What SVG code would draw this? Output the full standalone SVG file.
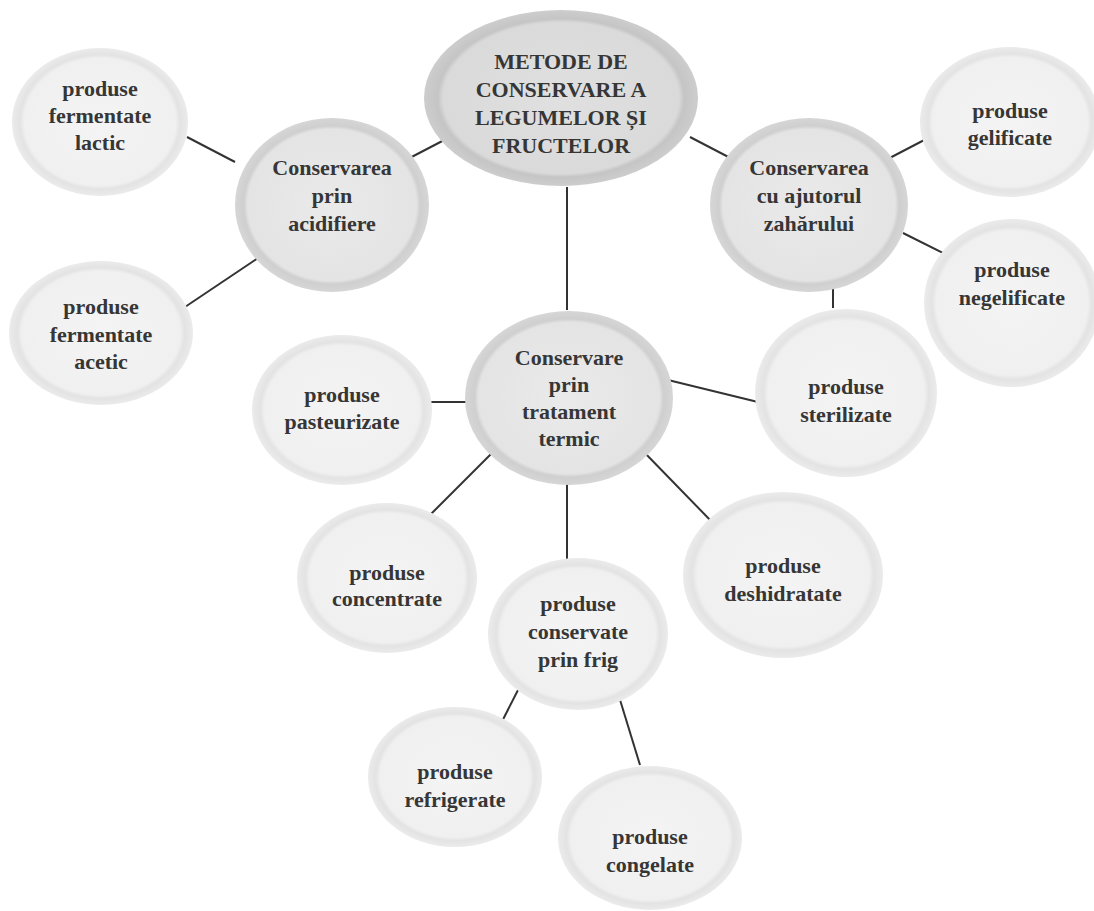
<svg xmlns="http://www.w3.org/2000/svg" width="1094" height="911" viewBox="0 0 1094 911">
<defs>
<radialGradient id="gMain" cx="0.5" cy="0.5" r="0.5">
<stop offset="0" stop-color="#e0e0e0"/>
<stop offset="0.86" stop-color="#dadada"/>
<stop offset="0.9" stop-color="#c5c5c5"/>
<stop offset="1" stop-color="#cdcdcd"/>
</radialGradient>
<radialGradient id="gSec" cx="0.5" cy="0.5" r="0.5">
<stop offset="0" stop-color="#eaeaea"/>
<stop offset="0.87" stop-color="#e4e4e4"/>
<stop offset="0.91" stop-color="#cfcfcf"/>
<stop offset="1" stop-color="#d6d6d6"/>
</radialGradient>
<radialGradient id="gLeaf" cx="0.5" cy="0.5" r="0.5">
<stop offset="0" stop-color="#f4f4f4"/>
<stop offset="0.86" stop-color="#f0f0f0"/>
<stop offset="0.91" stop-color="#e3e3e3"/>
<stop offset="1" stop-color="#ebebeb"/>
</radialGradient>
</defs>
<style>
.main{fill:url(#gMain)}
.sec{fill:url(#gSec)}
.leaf{fill:url(#gLeaf)}
text{font-family:"Liberation Serif","Times New Roman",serif;font-weight:bold;font-size:22px;fill:#363636;text-anchor:middle;dominant-baseline:central}
.conn line{stroke:#333;stroke-width:2}
</style>
<rect width="1094" height="911" fill="#ffffff"/>
<g class="conn">
<line x1="402" y1="162" x2="450" y2="137"/>
<line x1="690" y1="137" x2="738" y2="162"/>
<line x1="567" y1="187" x2="567" y2="310"/>
<line x1="235" y1="162" x2="187" y2="137"/>
<line x1="258" y1="258" x2="185" y2="307"/>
<line x1="882" y1="162" x2="930" y2="137"/>
<line x1="903" y1="233" x2="953" y2="258"/>
<line x1="833" y1="283" x2="833" y2="308"/>
<line x1="423" y1="402" x2="472" y2="402"/>
<line x1="668" y1="380" x2="762" y2="403"/>
<line x1="495" y1="450" x2="422" y2="523"/>
<line x1="642" y1="450" x2="713" y2="523"/>
<line x1="567" y1="473" x2="567" y2="570"/>
<line x1="518" y1="690" x2="490" y2="745"/>
<line x1="617" y1="690" x2="640" y2="765"/>
</g>
<g id="main"><ellipse class="main" cx="561" cy="98" rx="137" ry="88"/>
<text x="561" y="61">METODE DE</text><text x="561" y="89">CONSERVARE A</text><text x="561" y="117">LEGUMELOR ȘI</text><text x="561" y="145">FRUCTELOR</text></g>
<g id="acidifiere"><ellipse class="sec" cx="332" cy="205" rx="97" ry="87"/>
<text x="332" y="167">Conservarea</text><text x="332" y="195">prin</text><text x="332" y="223">acidifiere</text></g>
<g id="zahar"><ellipse class="sec" cx="809" cy="205" rx="99" ry="87"/>
<text x="809" y="167">Conservarea</text><text x="809" y="195">cu ajutorul</text><text x="809" y="223">zahărului</text></g>
<g id="termic"><ellipse class="sec" cx="569" cy="398" rx="104" ry="87"/>
<text x="569" y="357">Conservare</text><text x="569" y="384">prin</text><text x="569" y="411">tratament</text><text x="569" y="438">termic</text></g>
<g id="lactic"><ellipse class="leaf" cx="100" cy="122" rx="88" ry="74"/>
<text x="100" y="88">produse</text><text x="100" y="115">fermentate</text><text x="100" y="142">lactic</text></g>
<g id="acetic"><ellipse class="leaf" cx="101" cy="333" rx="92" ry="72"/>
<text x="101" y="306">produse</text><text x="101" y="334">fermentate</text><text x="101" y="361">acetic</text></g>
<g id="gelificate"><ellipse class="leaf" cx="1010" cy="122" rx="90" ry="75"/>
<text x="1010" y="110">produse</text><text x="1010" y="137">gelificate</text></g>
<g id="negelificate"><ellipse class="leaf" cx="1012" cy="303" rx="88" ry="84"/>
<text x="1012" y="269">produse</text><text x="1012" y="297">negelificate</text></g>
<g id="sterilizate"><ellipse class="leaf" cx="846" cy="393" rx="91" ry="84"/>
<text x="846" y="386">produse</text><text x="846" y="414">sterilizate</text></g>
<g id="pasteurizate"><ellipse class="leaf" cx="342" cy="410" rx="90" ry="75"/>
<text x="342" y="394">produse</text><text x="342" y="421">pasteurizate</text></g>
<g id="concentrate"><ellipse class="leaf" cx="387" cy="578" rx="90" ry="75"/>
<text x="387" y="572">produse</text><text x="387" y="598">concentrate</text></g>
<g id="deshidratate"><ellipse class="leaf" cx="783" cy="575" rx="100" ry="83"/>
<text x="783" y="565">produse</text><text x="783" y="593">deshidratate</text></g>
<g id="frig"><ellipse class="leaf" cx="578" cy="634" rx="90" ry="76"/>
<text x="578" y="603">produse</text><text x="578" y="631">conservate</text><text x="578" y="659">prin frig</text></g>
<g id="refrigerate"><ellipse class="leaf" cx="455" cy="777" rx="87" ry="70"/>
<text x="455" y="771">produse</text><text x="455" y="799">refrigerate</text></g>
<g id="congelate"><ellipse class="leaf" cx="650" cy="838" rx="92" ry="72"/>
<text x="650" y="836">produse</text><text x="650" y="864">congelate</text></g>
</svg>
